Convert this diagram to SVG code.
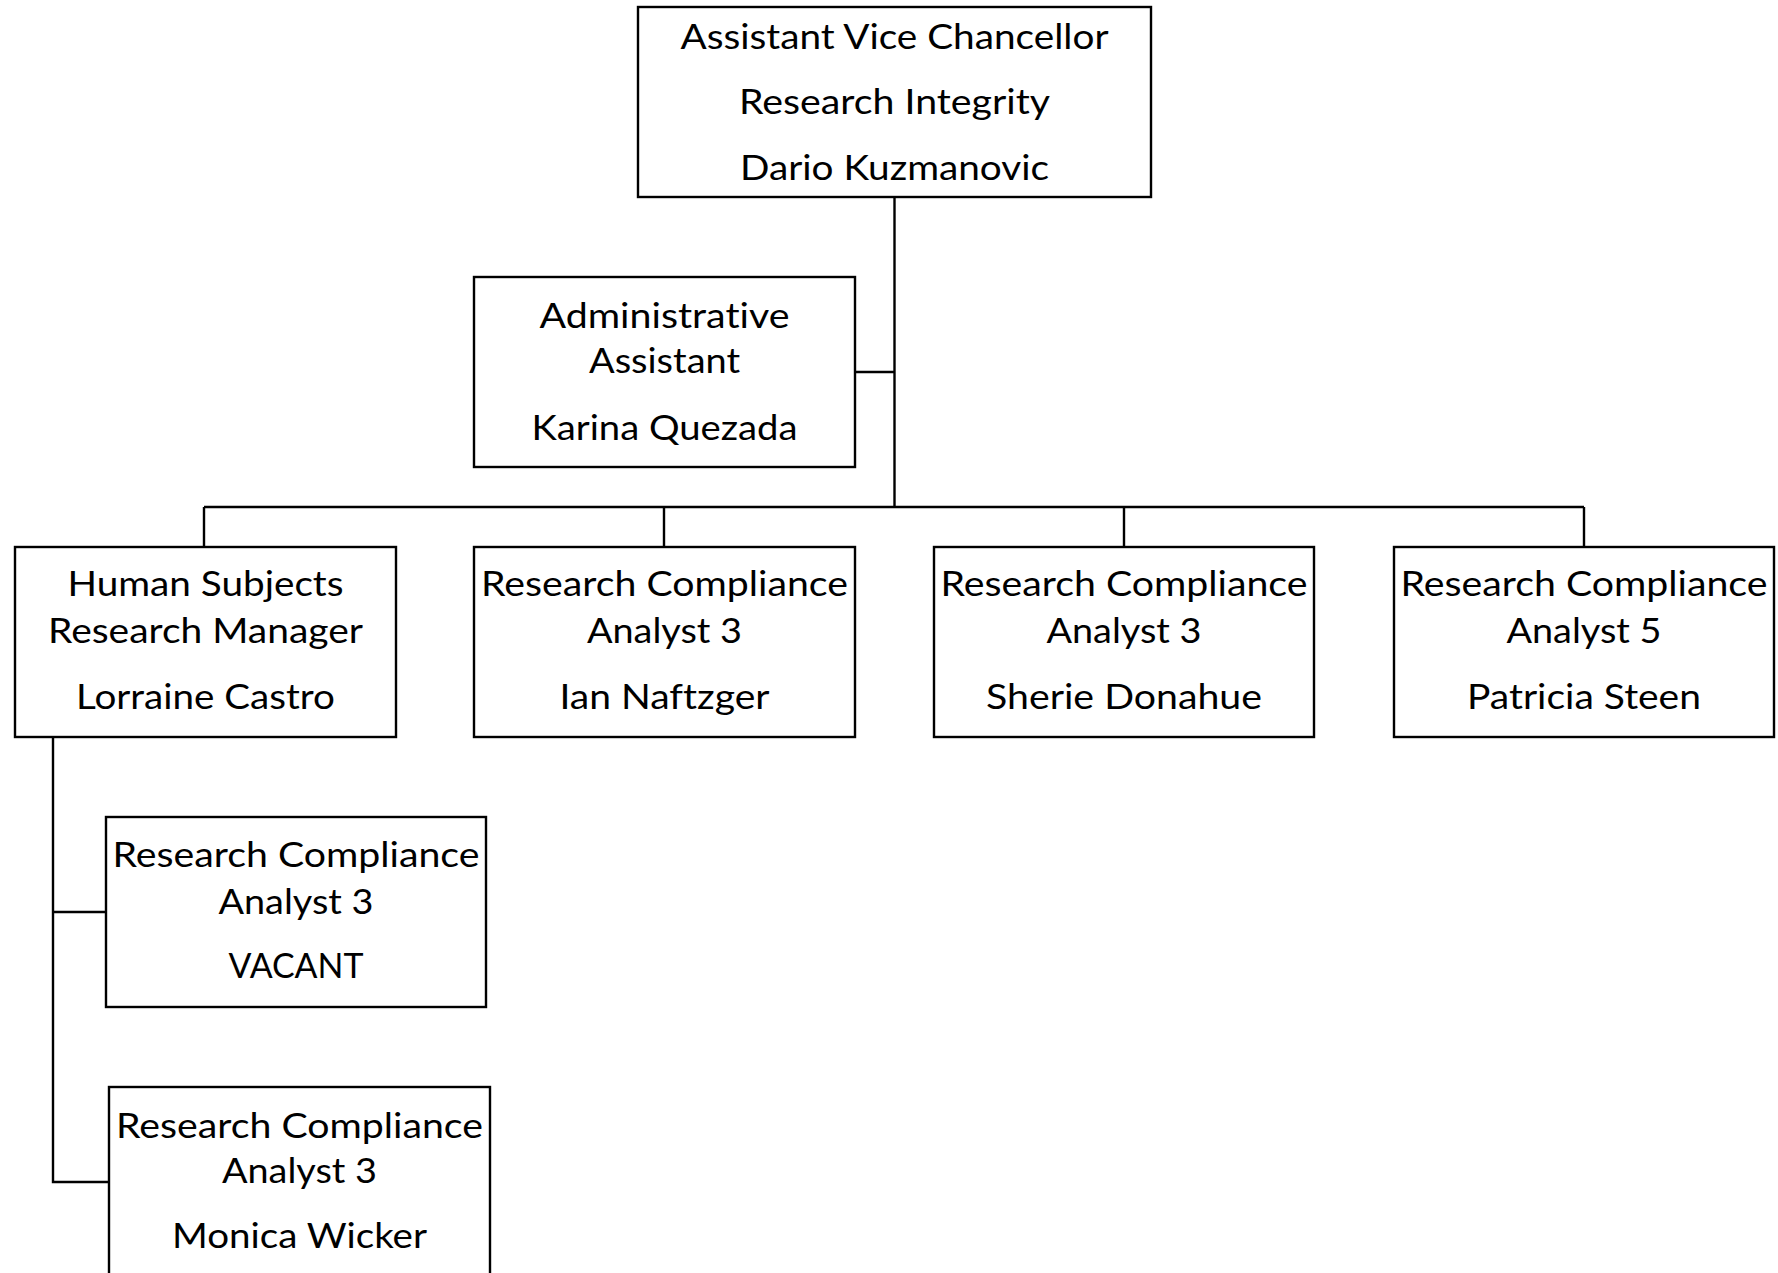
<svg xmlns="http://www.w3.org/2000/svg" width="1778" height="1273" viewBox="0 0 1778 1273">
<style>
.box{fill:#fff;stroke:#000;stroke-width:2.4}
.t{font-family:Lato,"Open Sans","Liberation Sans",sans-serif;font-size:35px;fill:#000;text-anchor:middle;font-variant-ligatures:none;font-feature-settings:"liga" 0}
.tt{font-size:34px}
.c{fill:none;stroke:#000;stroke-width:2.4}
</style>
<rect width="1778" height="1273" fill="#fff"/>
<g id="connectors">
<path class="c" d="M894.5,197 V507"/>
<path class="c" d="M855,372 H894.5"/>
<path class="c" d="M204,507 H1584"/>
<path class="c" d="M204,507 V547 M664,507 V547 M1124,507 V547 M1584,507 V547"/>
<path class="c" d="M53,737 V1182 H109 M53,912 H106"/>
</g>
<g id="avc">
<rect class="box" x="638" y="7" width="513" height="190"/>
<text class="t tt" x="894.5" y="49" textLength="428" lengthAdjust="spacingAndGlyphs">Assistant Vice Chancellor</text>
<text class="t tt" x="894.5" y="114" textLength="311" lengthAdjust="spacingAndGlyphs">Research Integrity</text>
<text class="t tt" x="894.5" y="180" textLength="309" lengthAdjust="spacingAndGlyphs">Dario Kuzmanovic</text>
</g>
<g id="admin">
<rect class="box" x="474" y="277" width="381" height="190"/>
<text class="t" x="664.5" y="328" textLength="250" lengthAdjust="spacingAndGlyphs">Administrative</text>
<text class="t" x="664.5" y="373" textLength="151" lengthAdjust="spacingAndGlyphs">Assistant</text>
<text class="t" x="664.5" y="440" textLength="266" lengthAdjust="spacingAndGlyphs">Karina Quezada</text>
</g>
<g id="hsrm">
<rect class="box" x="15" y="547" width="381" height="190"/>
<text class="t" x="205.5" y="596" textLength="276" lengthAdjust="spacingAndGlyphs">Human Subjects</text>
<text class="t" x="205.5" y="643" textLength="315" lengthAdjust="spacingAndGlyphs">Research Manager</text>
<text class="t" x="205.5" y="709" textLength="259" lengthAdjust="spacingAndGlyphs">Lorraine Castro</text>
</g>
<g id="rca-naftzger">
<rect class="box" x="474" y="547" width="381" height="190"/>
<text class="t" x="664.5" y="596" textLength="367" lengthAdjust="spacingAndGlyphs">Research Compliance</text>
<text class="t" x="664.5" y="643" textLength="155" lengthAdjust="spacingAndGlyphs">Analyst 3</text>
<text class="t" x="664.5" y="709" textLength="210" lengthAdjust="spacingAndGlyphs">Ian Naftzger</text>
</g>
<g id="rca-donahue">
<rect class="box" x="934" y="547" width="380" height="190"/>
<text class="t" x="1124" y="596" textLength="367" lengthAdjust="spacingAndGlyphs">Research Compliance</text>
<text class="t" x="1124" y="643" textLength="155" lengthAdjust="spacingAndGlyphs">Analyst 3</text>
<text class="t" x="1124" y="709" textLength="276" lengthAdjust="spacingAndGlyphs">Sherie Donahue</text>
</g>
<g id="rca-steen">
<rect class="box" x="1394" y="547" width="380" height="190"/>
<text class="t" x="1584" y="596" textLength="367" lengthAdjust="spacingAndGlyphs">Research Compliance</text>
<text class="t" x="1584" y="643" textLength="155" lengthAdjust="spacingAndGlyphs">Analyst 5</text>
<text class="t" x="1584" y="709" textLength="234" lengthAdjust="spacingAndGlyphs">Patricia Steen</text>
</g>
<g id="rca-vacant">
<rect class="box" x="106" y="817" width="380" height="190"/>
<text class="t" x="296" y="867" textLength="367" lengthAdjust="spacingAndGlyphs">Research Compliance</text>
<text class="t" x="296" y="914" textLength="155" lengthAdjust="spacingAndGlyphs">Analyst 3</text>
<text class="t" x="296" y="978" textLength="135" lengthAdjust="spacingAndGlyphs">VACANT</text>
</g>
<g id="rca-wicker">
<rect class="box" x="109" y="1087" width="381" height="200"/>
<text class="t" x="299.5" y="1138" textLength="367" lengthAdjust="spacingAndGlyphs">Research Compliance</text>
<text class="t" x="299.5" y="1183" textLength="155" lengthAdjust="spacingAndGlyphs">Analyst 3</text>
<text class="t" x="299.5" y="1248" textLength="255" lengthAdjust="spacingAndGlyphs">Monica Wicker</text>
</g>
</svg>
